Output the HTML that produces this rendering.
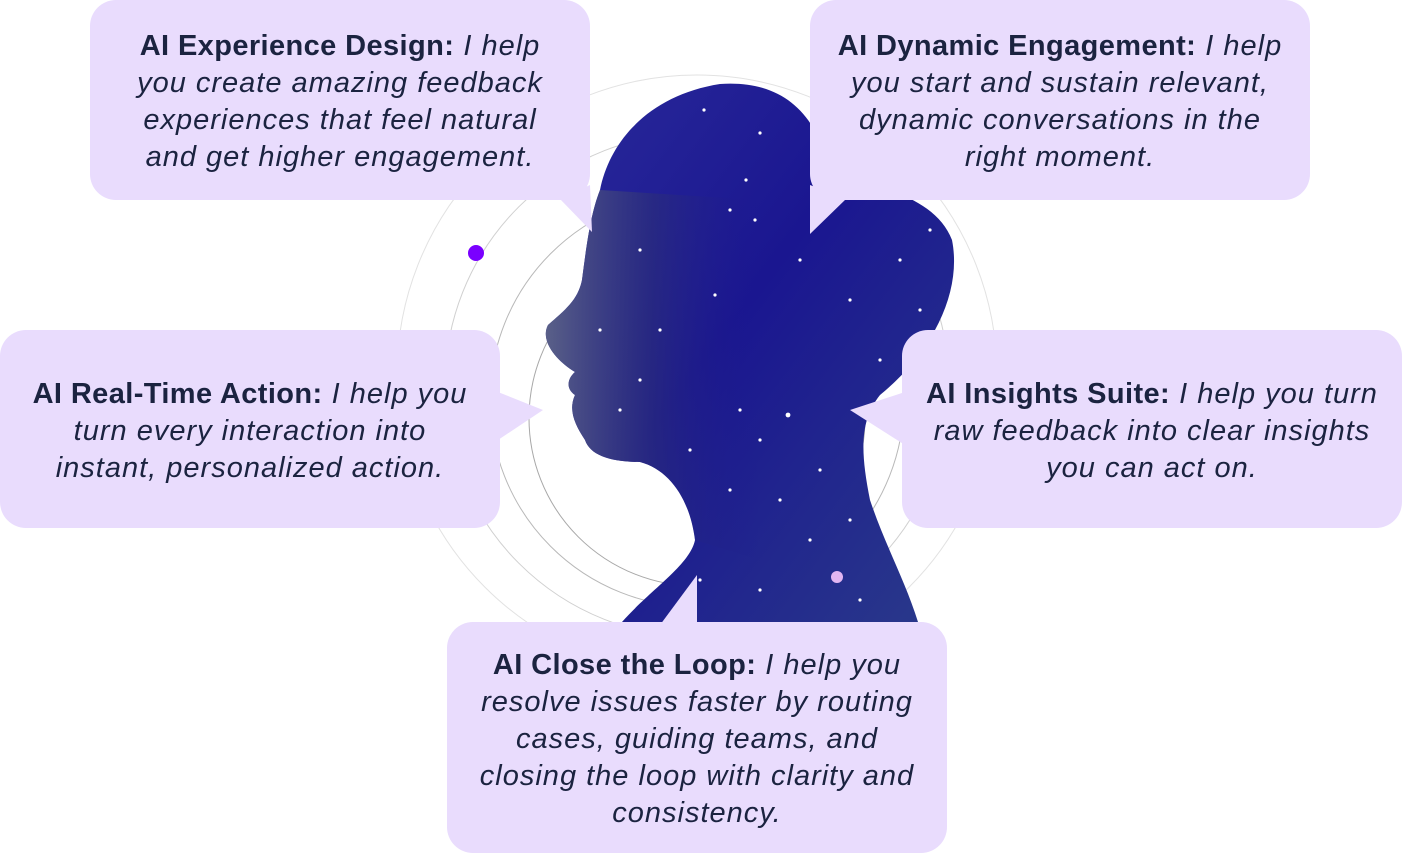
<!DOCTYPE html>
<html><head><meta charset="utf-8"><style>
html,body{margin:0;padding:0;background:#fff;}
body{width:1402px;height:853px;position:relative;overflow:hidden;font-family:"Liberation Sans",Arial,sans-serif;}
.b{position:absolute;background:#e9dcfd;border-radius:26px;color:#1b2340;font-size:29px;letter-spacing:1px;line-height:37px;text-align:center;font-style:italic;box-sizing:border-box;display:flex;align-items:center;justify-content:center;white-space:nowrap;padding-top:4px;}
.b b{font-style:normal;letter-spacing:0.4px;}
svg{position:absolute;left:0;top:0;}
</style></head><body>
<svg width="1402" height="853">
<defs>
<linearGradient id="g" x1="0" y1="0" x2="1" y2="1">
<stop offset="0" stop-color="#2a2a9a"/><stop offset="0.45" stop-color="#1a1690"/><stop offset="1" stop-color="#2a3a8a"/>
</linearGradient>
<linearGradient id="f" x1="0" y1="0" x2="1" y2="0">
<stop offset="0" stop-color="#5a6088"/><stop offset="0.5" stop-color="#2c2f78" stop-opacity="0.6"/><stop offset="1" stop-color="#1a1690" stop-opacity="0"/>
</linearGradient>
</defs>
<g fill="none" stroke="#c8c8c8" stroke-width="1">
<circle cx="697" cy="375" r="300" stroke="#e2e2e2"/>
<circle cx="697" cy="385" r="252" stroke="#d0d0d0"/>
<circle cx="697" cy="400" r="207" stroke="#b8b8b8"/>
<circle cx="697" cy="418" r="168" stroke="#a8a8a8"/>
</g>
<path fill="url(#g)" d="M600,190 C610,140 650,95 720,84 C780,80 815,110 830,170 C870,185 935,195 952,240 C962,290 935,350 880,395 C860,420 860,450 870,500 C885,545 905,580 918,622 L622,622 C650,590 690,565 695,540 C690,500 670,470 640,462 C610,462 590,455 585,440 C575,425 568,410 575,395 C565,388 568,378 575,372 C555,360 540,340 548,325 C565,310 578,300 582,280 C586,250 590,215 600,190 Z"/>
<path fill="url(#f)" d="M600,190 C590,215 586,250 582,280 C578,300 565,310 548,325 C540,340 555,360 575,372 C568,378 565,388 575,395 C568,410 575,425 585,440 C590,455 610,462 640,462 C670,470 690,500 695,540 L760,560 L760,200 Z"/>
<g fill="#fff">
<circle cx="704" cy="110" r="1.6"/><circle cx="760" cy="133" r="1.6"/><circle cx="730" cy="210" r="1.6"/><circle cx="746" cy="180" r="1.6"/><circle cx="640" cy="250" r="1.6"/><circle cx="715" cy="295" r="1.6"/><circle cx="755" cy="220" r="1.6"/><circle cx="800" cy="260" r="1.6"/><circle cx="850" cy="300" r="1.6"/><circle cx="900" cy="260" r="1.6"/><circle cx="920" cy="310" r="1.6"/><circle cx="640" cy="380" r="1.6"/><circle cx="620" cy="410" r="1.6"/><circle cx="600" cy="330" r="1.6"/><circle cx="740" cy="410" r="1.6"/><circle cx="788" cy="415" r="2.4"/><circle cx="820" cy="470" r="1.6"/><circle cx="780" cy="500" r="1.6"/><circle cx="730" cy="490" r="1.6"/><circle cx="810" cy="540" r="1.6"/><circle cx="850" cy="520" r="1.6"/><circle cx="760" cy="590" r="1.6"/><circle cx="700" cy="580" r="1.6"/><circle cx="860" cy="600" r="1.6"/><circle cx="660" cy="330" r="1.6"/><circle cx="690" cy="450" r="1.6"/><circle cx="760" cy="440" r="1.6"/><circle cx="880" cy="360" r="1.6"/><circle cx="830" cy="200" r="1.6"/><circle cx="930" cy="230" r="1.6"/>
</g>
<circle cx="476" cy="253" r="8" fill="#7a00ff"/>
<circle cx="837" cy="577" r="6" fill="#e2b6f2"/>
<g fill="#e9dcfd">
<polygon points="560,199 592,232 590,185"/>
<polygon points="810,185 810,234 846,199"/>
<polygon points="498,392 543,410 498,440"/>
<polygon points="905,392 850,410 905,445"/>
<polygon points="660,625 697,575 697,625"/>
</g>
</svg>
<div class="b" style="left:90px;top:0;width:500px;height:200px;"><div><b>AI Experience Design:</b> I help<br>you create amazing feedback<br>experiences that feel natural<br>and get higher engagement.</div></div>
<div class="b" style="left:810px;top:0;width:500px;height:200px;"><div><b>AI Dynamic Engagement:</b> I help<br>you start and sustain relevant,<br>dynamic conversations in the<br>right moment.</div></div>
<div class="b" style="left:0;top:330px;width:500px;height:198px;"><div><b>AI Real-Time Action:</b> I help you<br>turn every interaction into<br>instant, personalized action.</div></div>
<div class="b" style="left:902px;top:330px;width:500px;height:198px;"><div><b>AI Insights Suite:</b> I help you turn<br>raw feedback into clear insights<br>you can act on.</div></div>
<div class="b" style="left:447px;top:622px;width:500px;height:231px;"><div><b>AI Close the Loop:</b> I help you<br>resolve issues faster by routing<br>cases, guiding teams, and<br>closing the loop with clarity and<br>consistency.</div></div>
</body></html>
